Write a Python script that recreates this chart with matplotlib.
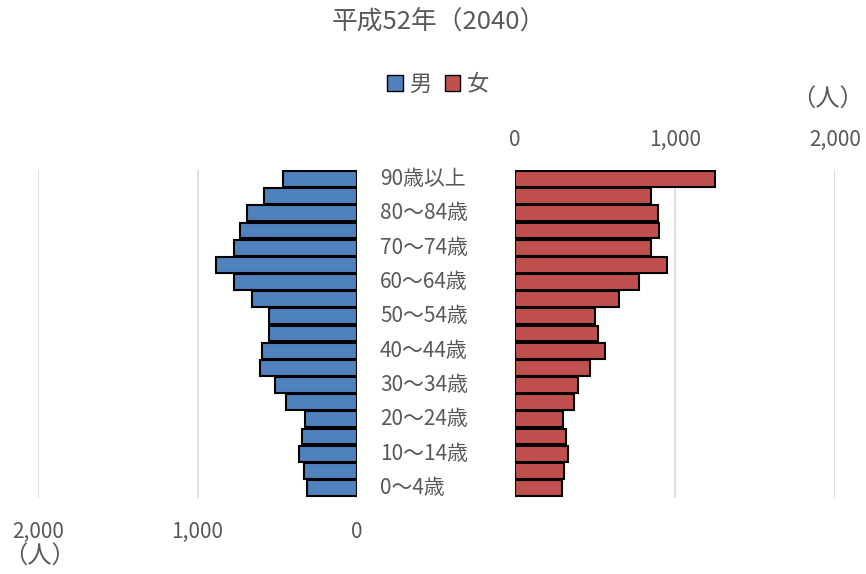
import numpy as np
import matplotlib.pyplot as plt
from matplotlib.patches import Patch

plt.rcParams['font.family'] = ['Noto Sans CJK JP', 'DejaVu Sans']

age_groups = ['0〜4歳', '5〜9歳', '10〜14歳', '15〜19歳', '20〜24歳', '25〜29歳',
              '30〜34歳', '35〜39歳', '40〜44歳', '45〜49歳', '50〜54歳', '55〜59歳',
              '60〜64歳', '65〜69歳', '70〜74歳', '75〜79歳', '80〜84歳', '85〜89歳',
              '90歳以上']
male = [314, 333, 362, 346, 325, 446, 514, 611, 598, 552, 552, 658,
        769, 881, 769, 735, 689, 581, 464]
female = [296, 308, 331, 317, 302, 367, 394, 467, 560, 516, 503, 650,
          776, 952, 851, 899, 895, 847, 1247]
ticks = [0, 1000, 2000]
tick_labels = ['0', '1,000', '2,000']

grey = '#595959'
blue = '#4f81bd'
red = '#c0504d'

fig = plt.figure(figsize=(8.66, 5.74), dpi=100)
W, H = 866, 574
bottom = 1 - 497.5 / H
height = (497.5 - 169.5) / H
axL = fig.add_axes([38 / W, bottom, (357 - 38) / W, height])
axR = fig.add_axes([515 / W, bottom, (835 - 515) / W, height])

y = np.arange(len(age_groups))
axL.barh(y, male, height=0.92, color=blue, edgecolor='black', linewidth=1.5, zorder=3)
axR.barh(y, female, height=0.92, color=red, edgecolor='black', linewidth=1.5, zorder=3)

for ax in (axL, axR):
    ax.set_xlim(0, 2000)
    ax.set_ylim(-0.55, len(age_groups) - 0.45)
    ax.set_xticks(ticks)
    ax.set_xticklabels(tick_labels)
    ax.set_yticks([])
    for s in ax.spines.values():
        s.set_visible(False)
    ax.grid(axis='x', color='#d9d9d9', linewidth=1.2, zorder=0)
    ax.tick_params(axis='x', length=0, colors=grey, labelsize=15)

axL.invert_xaxis()
axL.tick_params(axis='x', pad=17)
axR.xaxis.tick_top()
axR.tick_params(axis='x', pad=13.5)

# age labels in the middle, every other group
for i in range(0, len(age_groups), 2):
    axL.annotate(age_groups[i], xy=(0, i), xycoords='data',
                 xytext=(23, 0), textcoords='offset pixels',
                 ha='left', va='center', color=grey, fontsize=15)

fig.text(0.507, 1 - 22 / H, '平成52年（2040）', ha='center', va='center', color=grey, fontsize=18.5)
fig.text(864 / W, 1 - 100 / H, '（人）', ha='right', va='center', color=grey, fontsize=17.5)
fig.text(40 / W, 1 - 557 / H, '（人）', ha='center', va='center', color=grey, fontsize=17.5)

handles = [Patch(facecolor=blue, edgecolor='black', label='男'),
           Patch(facecolor=red, edgecolor='black', label='女')]
fig.legend(handles=handles, loc='center', bbox_to_anchor=(0.506, 1 - 84 / H), ncol=2,
           frameon=False, fontsize=16, labelcolor=grey, handlelength=0.7,
           handleheight=0.7, handletextpad=0.3, columnspacing=0.6)

fig.savefig('out.png', dpi=100)
